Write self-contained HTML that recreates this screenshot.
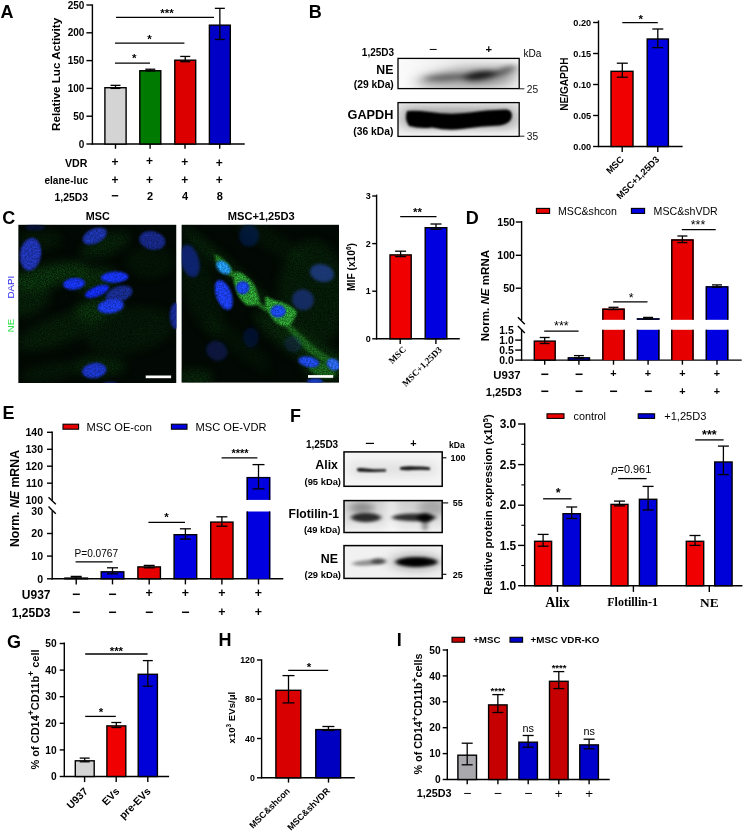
<!DOCTYPE html>
<html lang="en"><head><meta charset="utf-8"><title>Figure</title>
<style>
html,body{margin:0;padding:0;background:#fff;}
body{width:745px;height:831px;overflow:hidden;font-family:"Liberation Sans",Arial,sans-serif;}
svg{display:block;font-family:"Liberation Sans",Arial,sans-serif;}
</style></head><body>
<svg width="745" height="831" viewBox="0 0 745 831">
<defs>
<filter id="b1" x="-30%" y="-80%" width="160%" height="260%"><feGaussianBlur stdDeviation="4 2.6"/></filter>
<filter id="b2" x="-30%" y="-80%" width="160%" height="260%"><feGaussianBlur stdDeviation="2.2 1.6"/></filter>
<filter id="b3" x="-30%" y="-80%" width="160%" height="260%"><feGaussianBlur stdDeviation="1.2 1"/></filter>
<filter id="b6" x="-30%" y="-80%" width="160%" height="260%"><feGaussianBlur stdDeviation="7 4"/></filter>
<clipPath id="cb1"><rect x="398" y="58.4" width="121.2" height="30.2"/></clipPath>
<clipPath id="cb2"><rect x="398" y="102.6" width="121.2" height="33.8"/></clipPath>
<linearGradient id="gb1" x1="0" x2="1" y1="0" y2="0"><stop offset="0" stop-color="#fbfbfb"/><stop offset="0.5" stop-color="#ececec"/><stop offset="1" stop-color="#f4f4f4"/></linearGradient>
<linearGradient id="gb2" x1="0" x2="0" y1="0" y2="1"><stop offset="0" stop-color="#e6e6e6"/><stop offset="0.5" stop-color="#e0e0e0"/><stop offset="1" stop-color="#f6f6f6"/></linearGradient>
<filter id="n1" x="-40%" y="-40%" width="180%" height="180%"><feGaussianBlur stdDeviation="0.9"/></filter>
<filter id="n2" x="-40%" y="-40%" width="180%" height="180%"><feGaussianBlur stdDeviation="1.8"/></filter>
<filter id="hz" x="-20%" y="-20%" width="140%" height="140%" color-interpolation-filters="sRGB"><feGaussianBlur stdDeviation="5" result="a"/><feTurbulence type="fractalNoise" baseFrequency="0.75" numOctaves="2" seed="5" result="n"/><feColorMatrix in="n" type="matrix" values="1.6 0 0 0 -0.3  1.6 0 0 0 -0.3  1.6 0 0 0 -0.3  0 0 0 0 1" result="n2"/><feComposite in="a" in2="n2" operator="arithmetic" k1="0.78" k2="0.14" k3="0" k4="0"/></filter>
<filter id="hz2" x="-20%" y="-20%" width="140%" height="140%" color-interpolation-filters="sRGB"><feGaussianBlur stdDeviation="1.3" result="a"/><feTurbulence type="fractalNoise" baseFrequency="0.8" numOctaves="2" seed="11" result="n"/><feColorMatrix in="n" type="matrix" values="1.5 0 0 0 -0.2  1.5 0 0 0 -0.2  1.5 0 0 0 -0.2  0 0 0 0 1" result="n2"/><feComposite in="a" in2="n2" operator="arithmetic" k1="0.9" k2="0.4" k3="0" k4="0"/></filter>
<filter id="nt" x="-20%" y="-20%" width="140%" height="140%" color-interpolation-filters="sRGB"><feGaussianBlur stdDeviation="0.9" result="a"/><feTurbulence type="fractalNoise" baseFrequency="0.6" numOctaves="2" seed="2" result="n"/><feColorMatrix in="n" type="matrix" values="1.2 0 0 0 0.1  1.2 0 0 0 0.1  1.2 0 0 0 0.1  0 0 0 0 1" result="n2"/><feComposite in="a" in2="n2" operator="arithmetic" k1="0.75" k2="0.42" k3="0" k4="0"/></filter>
<clipPath id="cm1"><rect x="18.2" y="224.6" width="158.3" height="158.5"/></clipPath>
<clipPath id="cm2"><rect x="181.4" y="224.6" width="157.6" height="158.2"/></clipPath>
<clipPath id="cf1"><rect x="344" y="451.9" width="98.2" height="34.4"/></clipPath>
<clipPath id="cf2"><rect x="344" y="500.6" width="98.2" height="31.9"/></clipPath>
<clipPath id="cf3"><rect x="344" y="545.6" width="98.2" height="32.8"/></clipPath>
<filter id="bn" x="-10%" y="-30%" width="120%" height="160%" color-interpolation-filters="sRGB"><feGaussianBlur stdDeviation="1.7 1.3" result="a"/><feTurbulence type="fractalNoise" baseFrequency="0.35" numOctaves="2" seed="9" result="n"/><feColorMatrix in="n" type="matrix" values="0 0 0 0 0  0 0 0 0 0  0 0 0 0 0  0.9 0 0 0 0.5" result="n2"/><feComposite in="a" in2="n2" operator="in"/><feGaussianBlur stdDeviation="0.45"/></filter>
<linearGradient id="gf2" x1="0" x2="0" y1="0" y2="1"><stop offset="0" stop-color="#cfcfcf"/><stop offset="0.6" stop-color="#dcdcdc"/><stop offset="1" stop-color="#f2f2f2"/></linearGradient>
</defs>
<rect x="0" y="0" width="745" height="831" fill="#fff"/>
<text x="0.4" y="17.8" font-size="18" font-weight="bold" text-anchor="start" fill="#000">A</text>
<text x="308.8" y="17.8" font-size="18" font-weight="bold" text-anchor="start" fill="#000">B</text>
<text x="2.2" y="224.1" font-size="18" font-weight="bold" text-anchor="start" fill="#000">C</text>
<text x="465.8" y="223.9" font-size="18" font-weight="bold" text-anchor="start" fill="#000">D</text>
<text x="2.6" y="419" font-size="18" font-weight="bold" text-anchor="start" fill="#000">E</text>
<text x="290.1" y="422.1" font-size="18" font-weight="bold" text-anchor="start" fill="#000">F</text>
<text x="7" y="648" font-size="18" font-weight="bold" text-anchor="start" fill="#000">G</text>
<text x="218.4" y="646.1" font-size="18" font-weight="bold" text-anchor="start" fill="#000">H</text>
<text x="396.7" y="645.9" font-size="18" font-weight="bold" text-anchor="start" fill="#000">I</text>
<line x1="92.4" y1="4.4" x2="92.4" y2="144.6" stroke="#000" stroke-width="1.4" stroke-linecap="butt"/>
<line x1="91.8" y1="144" x2="244.7" y2="144" stroke="#000" stroke-width="1.4" stroke-linecap="butt"/>
<line x1="86.4" y1="144" x2="92.4" y2="144" stroke="#000" stroke-width="1.4" stroke-linecap="butt"/>
<text x="84.4" y="147.58" font-size="10" font-weight="bold" text-anchor="end" fill="#000">0</text>
<line x1="86.4" y1="116.2" x2="92.4" y2="116.2" stroke="#000" stroke-width="1.4" stroke-linecap="butt"/>
<text x="84.4" y="119.78" font-size="10" font-weight="bold" text-anchor="end" fill="#000">50</text>
<line x1="86.4" y1="88.4" x2="92.4" y2="88.4" stroke="#000" stroke-width="1.4" stroke-linecap="butt"/>
<text x="84.4" y="91.98" font-size="10" font-weight="bold" text-anchor="end" fill="#000">100</text>
<line x1="86.4" y1="60.6" x2="92.4" y2="60.6" stroke="#000" stroke-width="1.4" stroke-linecap="butt"/>
<text x="84.4" y="64.18" font-size="10" font-weight="bold" text-anchor="end" fill="#000">150</text>
<line x1="86.4" y1="32.8" x2="92.4" y2="32.8" stroke="#000" stroke-width="1.4" stroke-linecap="butt"/>
<text x="84.4" y="36.38" font-size="10" font-weight="bold" text-anchor="end" fill="#000">200</text>
<line x1="86.4" y1="5" x2="92.4" y2="5" stroke="#000" stroke-width="1.4" stroke-linecap="butt"/>
<text x="84.4" y="8.58" font-size="10" font-weight="bold" text-anchor="end" fill="#000">250</text>
<text x="60.2" y="74.4" font-size="11.6" font-weight="bold" text-anchor="middle" fill="#000" transform="rotate(-90 60.2 74.4)">Relative Luc Activity</text>
<rect x="104.9" y="87.71" width="21.2" height="56.29" fill="#d4d4d4" stroke="#000" stroke-width="1.4"/>
<line x1="115.5" y1="85.34" x2="115.5" y2="88.4" stroke="#000" stroke-width="1.3" stroke-linecap="butt"/>
<line x1="110.5" y1="85.34" x2="120.5" y2="85.34" stroke="#000" stroke-width="1.3" stroke-linecap="butt"/>
<line x1="110.5" y1="88.4" x2="120.5" y2="88.4" stroke="#000" stroke-width="1.3" stroke-linecap="butt"/>
<rect x="139.8" y="70.75" width="21" height="73.25" fill="#007a00" stroke="#000" stroke-width="1.4"/>
<line x1="150.3" y1="69.22" x2="150.3" y2="70.89" stroke="#000" stroke-width="1.3" stroke-linecap="butt"/>
<line x1="145.3" y1="69.22" x2="155.3" y2="69.22" stroke="#000" stroke-width="1.3" stroke-linecap="butt"/>
<line x1="145.3" y1="70.89" x2="155.3" y2="70.89" stroke="#000" stroke-width="1.3" stroke-linecap="butt"/>
<rect x="174.8" y="60.19" width="20.9" height="83.81" fill="#dc0000" stroke="#000" stroke-width="1.4"/>
<line x1="185.25" y1="56.43" x2="185.25" y2="61.71" stroke="#000" stroke-width="1.3" stroke-linecap="butt"/>
<line x1="180.25" y1="56.43" x2="190.25" y2="56.43" stroke="#000" stroke-width="1.3" stroke-linecap="butt"/>
<line x1="180.25" y1="61.71" x2="190.25" y2="61.71" stroke="#000" stroke-width="1.3" stroke-linecap="butt"/>
<rect x="209.4" y="25.16" width="20.9" height="118.84" fill="#0000c6" stroke="#000" stroke-width="1.4"/>
<line x1="219.85" y1="8.34" x2="219.85" y2="39.47" stroke="#000" stroke-width="1.3" stroke-linecap="butt"/>
<line x1="214.85" y1="8.34" x2="224.85" y2="8.34" stroke="#000" stroke-width="1.3" stroke-linecap="butt"/>
<line x1="214.85" y1="39.47" x2="224.85" y2="39.47" stroke="#000" stroke-width="1.3" stroke-linecap="butt"/>
<line x1="115.5" y1="144" x2="115.5" y2="148.8" stroke="#000" stroke-width="1.4" stroke-linecap="butt"/>
<line x1="150.1" y1="144" x2="150.1" y2="148.8" stroke="#000" stroke-width="1.4" stroke-linecap="butt"/>
<line x1="185" y1="144" x2="185" y2="148.8" stroke="#000" stroke-width="1.4" stroke-linecap="butt"/>
<line x1="219.7" y1="144" x2="219.7" y2="148.8" stroke="#000" stroke-width="1.4" stroke-linecap="butt"/>
<line x1="115" y1="63.2" x2="150" y2="63.2" stroke="#000" stroke-width="1.3" stroke-linecap="butt"/>
<line x1="115" y1="43.2" x2="184.4" y2="43.2" stroke="#000" stroke-width="1.3" stroke-linecap="butt"/>
<line x1="116" y1="17.4" x2="214" y2="17.4" stroke="#000" stroke-width="1.3" stroke-linecap="butt"/>
<text x="134.2" y="61.95" font-size="11.5" font-weight="bold" text-anchor="middle" fill="#000">*</text>
<text x="149.6" y="43.15" font-size="11.5" font-weight="bold" text-anchor="middle" fill="#000">*</text>
<text x="167" y="17.35" font-size="11.5" font-weight="bold" text-anchor="middle" fill="#000">***</text>
<text x="87.4" y="166.99" font-size="10.6" font-weight="bold" text-anchor="end" fill="#000">VDR</text>
<text x="88.2" y="183.92" font-size="10.1" font-weight="bold" text-anchor="end" fill="#000">elane-luc</text>
<text x="88" y="200.62" font-size="10.4" font-weight="bold" text-anchor="end" fill="#000">1,25D3</text>
<text x="114.9" y="166.45" font-size="12" font-weight="bold" text-anchor="middle" fill="#000">+</text>
<text x="114.9" y="184.05" font-size="12" font-weight="bold" text-anchor="middle" fill="#000">+</text>
<text x="149.5" y="165.25" font-size="12" font-weight="bold" text-anchor="middle" fill="#000">+</text>
<text x="149.5" y="184.05" font-size="12" font-weight="bold" text-anchor="middle" fill="#000">+</text>
<text x="184.7" y="166.45" font-size="12" font-weight="bold" text-anchor="middle" fill="#000">+</text>
<text x="184.7" y="184.05" font-size="12" font-weight="bold" text-anchor="middle" fill="#000">+</text>
<text x="219.3" y="167.05" font-size="12" font-weight="bold" text-anchor="middle" fill="#000">+</text>
<text x="219.3" y="184.05" font-size="12" font-weight="bold" text-anchor="middle" fill="#000">+</text>
<text x="115.1" y="200.36" font-size="12.8" font-weight="bold" text-anchor="middle" fill="#000">−</text>
<text x="150.1" y="200.34" font-size="11" font-weight="bold" text-anchor="middle" fill="#000">2</text>
<text x="185" y="200.34" font-size="11" font-weight="bold" text-anchor="middle" fill="#000">4</text>
<text x="219.7" y="200.34" font-size="11" font-weight="bold" text-anchor="middle" fill="#000">8</text>
<g clip-path="url(#cb1)"><rect x="398" y="58.4" width="122" height="30.2" fill="url(#gb1)"/><g filter="url(#b6)"><ellipse cx="468" cy="77" rx="52" ry="10" fill="#000" opacity="0.3" transform="rotate(-6 468 77)"/><ellipse cx="490" cy="82" rx="26" ry="6" fill="#000" opacity="0.2"/></g><g filter="url(#b1)"><ellipse cx="446" cy="77.5" rx="22" ry="3.2" fill="#000" opacity="0.42" transform="rotate(-3 446 77)"/><ellipse cx="480" cy="75.5" rx="17" ry="4.2" fill="#000" opacity="0.85" transform="rotate(-7 480 75)"/><ellipse cx="505" cy="70.5" rx="12" ry="3.2" fill="#000" opacity="0.5" transform="rotate(-22 505 70)"/></g></g>
<rect x="398" y="58.4" width="121.2" height="30.2" fill="none" stroke="#000" stroke-width="1.3"/>
<g clip-path="url(#cb2)"><rect x="398" y="102.6" width="122" height="33.8" fill="url(#gb2)"/><g filter="url(#b6)"><rect x="404" y="108" width="110" height="20" fill="#000" opacity="0.3"/></g><g filter="url(#b3)"><path d="M407 111 Q404 119 409 126 Q420 129 432 127.5 Q448 131 462 129 Q480 126 500 125.5 Q511 124 512 116 Q512 109 505 109.5 Q485 110 470 112.5 Q450 115 430 112 Q415 110 407 111Z" fill="#000"/></g></g>
<rect x="398" y="102.6" width="121.2" height="33.8" fill="none" stroke="#000" stroke-width="1.3"/>
<text x="394.1" y="55.98" font-size="10" font-weight="bold" text-anchor="end" fill="#000">1,25D3</text>
<text x="433" y="53.83" font-size="14.32" font-weight="normal" text-anchor="middle" fill="#000">−</text>
<text x="488.71" y="52.78" font-size="11.2" font-weight="bold" text-anchor="middle" fill="#000">+</text>
<text x="523.4" y="57.42" font-size="10.1" font-weight="normal" text-anchor="start" fill="#000">kDa</text>
<text x="393.4" y="74" font-size="12.3" font-weight="bold" text-anchor="end" fill="#000">NE</text>
<text x="393.8" y="87.89" font-size="10.3" font-weight="bold" text-anchor="end" fill="#000">(29 kDa)</text>
<text x="393.4" y="119.15" font-size="12.7" font-weight="bold" text-anchor="end" fill="#000">GAPDH</text>
<text x="393.4" y="134.89" font-size="10.3" font-weight="bold" text-anchor="end" fill="#000">(36 kDa)</text>
<line x1="519.6" y1="88.8" x2="524.4" y2="88.8" stroke="#222" stroke-width="1" stroke-linecap="butt"/>
<line x1="519.6" y1="136.2" x2="524.4" y2="136.2" stroke="#222" stroke-width="1" stroke-linecap="butt"/>
<text x="526.8" y="92.85" font-size="10.2" font-weight="normal" text-anchor="start" fill="#111">25</text>
<text x="526.8" y="139.85" font-size="10.2" font-weight="normal" text-anchor="start" fill="#111">35</text>
<line x1="598.5" y1="20.4" x2="598.5" y2="147.1" stroke="#000" stroke-width="1.4" stroke-linecap="butt"/>
<line x1="597.9" y1="146.5" x2="682.6" y2="146.5" stroke="#000" stroke-width="1.4" stroke-linecap="butt"/>
<line x1="593.1" y1="146.5" x2="598.5" y2="146.5" stroke="#000" stroke-width="1.4" stroke-linecap="butt"/>
<text x="591.2" y="149.79" font-size="9.2" font-weight="bold" text-anchor="end" fill="#000">0.00</text>
<line x1="593.1" y1="115.5" x2="598.5" y2="115.5" stroke="#000" stroke-width="1.4" stroke-linecap="butt"/>
<text x="591.2" y="118.79" font-size="9.2" font-weight="bold" text-anchor="end" fill="#000">0.05</text>
<line x1="593.1" y1="84.5" x2="598.5" y2="84.5" stroke="#000" stroke-width="1.4" stroke-linecap="butt"/>
<text x="591.2" y="87.79" font-size="9.2" font-weight="bold" text-anchor="end" fill="#000">0.10</text>
<line x1="593.1" y1="53.5" x2="598.5" y2="53.5" stroke="#000" stroke-width="1.4" stroke-linecap="butt"/>
<text x="591.2" y="56.79" font-size="9.2" font-weight="bold" text-anchor="end" fill="#000">0.15</text>
<line x1="593.1" y1="22.5" x2="598.5" y2="22.5" stroke="#000" stroke-width="1.4" stroke-linecap="butt"/>
<text x="591.2" y="25.79" font-size="9.2" font-weight="bold" text-anchor="end" fill="#000">0.20</text>
<text x="567.8" y="84.2" font-size="10.1" font-weight="bold" text-anchor="middle" fill="#000" transform="rotate(-90 567.8 84.2)">NE/GAPDH</text>
<rect x="611" y="71.3" width="22" height="75.2" fill="#f00000" stroke="#000" stroke-width="1.4"/>
<rect x="647.2" y="39" width="21.2" height="107.5" fill="#0000e0" stroke="#000" stroke-width="1.4"/>
<line x1="622.3" y1="63.2" x2="622.3" y2="77.2" stroke="#000" stroke-width="1.3" stroke-linecap="butt"/>
<line x1="616.8" y1="63.2" x2="627.8" y2="63.2" stroke="#000" stroke-width="1.3" stroke-linecap="butt"/>
<line x1="616.8" y1="77.2" x2="627.8" y2="77.2" stroke="#000" stroke-width="1.3" stroke-linecap="butt"/>
<line x1="657.8" y1="29" x2="657.8" y2="47.6" stroke="#000" stroke-width="1.3" stroke-linecap="butt"/>
<line x1="652.3" y1="29" x2="663.3" y2="29" stroke="#000" stroke-width="1.3" stroke-linecap="butt"/>
<line x1="652.3" y1="47.6" x2="663.3" y2="47.6" stroke="#000" stroke-width="1.3" stroke-linecap="butt"/>
<line x1="622.2" y1="146.5" x2="622.2" y2="151.9" stroke="#000" stroke-width="1.4" stroke-linecap="butt"/>
<line x1="657.8" y1="146.5" x2="657.8" y2="151.9" stroke="#000" stroke-width="1.4" stroke-linecap="butt"/>
<line x1="622.3" y1="22.6" x2="657.8" y2="22.6" stroke="#000" stroke-width="1.3" stroke-linecap="butt"/>
<text x="640.8" y="22.55" font-size="11.5" font-weight="bold" text-anchor="middle" fill="#000">*</text>
<text x="624.5" y="160" font-size="9.3" font-weight="bold" text-anchor="end" fill="#000" transform="rotate(-45 624.5 160)">MSC</text>
<text x="660" y="160" font-size="9.3" font-weight="bold" text-anchor="end" fill="#000" transform="rotate(-45 660 160)">MSC+1,25D3</text>
<g clip-path="url(#cm1)"><rect x="18.2" y="224.6" width="158.3" height="158.5" fill="#020803"/><g filter="url(#hz)"><ellipse cx="48" cy="276" rx="42" ry="11" fill="#1c8a22" opacity="0.55" transform="rotate(-12 48 276)"/><ellipse cx="30" cy="300" rx="22" ry="14" fill="#1c8a22" opacity="0.3" transform="rotate(-30 30 300)"/><ellipse cx="96" cy="280" rx="22" ry="12" fill="#1c8a22" opacity="0.45" transform="rotate(-10 96 280)"/><ellipse cx="98" cy="308" rx="24" ry="10" fill="#1c8a22" opacity="0.5" transform="rotate(-10 98 308)"/><ellipse cx="105" cy="245" rx="26" ry="10" fill="#1c8a22" opacity="0.35" transform="rotate(-20 105 245)"/><ellipse cx="60" cy="330" rx="45" ry="14" fill="#1c8a22" opacity="0.28" transform="rotate(-20 60 330)"/><ellipse cx="130" cy="330" rx="45" ry="22" fill="#1c8a22" opacity="0.2" transform="rotate(-10 130 330)"/><ellipse cx="100" cy="366" rx="26" ry="10" fill="#1c8a22" opacity="0.35"/><ellipse cx="50" cy="372" rx="30" ry="8" fill="#1c8a22" opacity="0.22" transform="rotate(-10 50 372)"/><ellipse cx="150" cy="262" rx="24" ry="16" fill="#1c8a22" opacity="0.15"/><ellipse cx="40" cy="240" rx="22" ry="10" fill="#1c8a22" opacity="0.2"/></g><g filter="url(#nt)"><ellipse cx="35" cy="227.4" rx="10" ry="3.2" fill="#0c1a60" opacity="0.55"/><ellipse cx="30.5" cy="254.3" rx="10.6" ry="16.4" fill="#2238c0" opacity="0.95" transform="rotate(8 30.5 254.3)"/><ellipse cx="94.7" cy="236" rx="12.8" ry="7.4" fill="#1e38b8" opacity="0.92" transform="rotate(-24 94.7 236)"/><ellipse cx="152.3" cy="240.4" rx="13.2" ry="9.2" fill="#1a2e9c" opacity="0.88" transform="rotate(12 152.3 240.4)"/><ellipse cx="119.1" cy="294.2" rx="14" ry="7.8" fill="#1c34a8" opacity="0.85" transform="rotate(-20 119.1 294.2)"/><ellipse cx="74.1" cy="283.8" rx="11" ry="5.8" fill="#1634f4" opacity="1" transform="rotate(-6 74.1 283.8)"/><ellipse cx="114.7" cy="277.1" rx="13.8" ry="5.6" fill="#1634f4" opacity="1" transform="rotate(-3 114.7 277.1)"/><ellipse cx="97" cy="291.3" rx="12.8" ry="5" fill="#122cf4" opacity="1" transform="rotate(-22 97 291.3)"/><ellipse cx="110.7" cy="306.4" rx="13.2" ry="7" fill="#1c3cea" opacity="1" transform="rotate(-8 110.7 306.4)"/><ellipse cx="175.8" cy="315.7" rx="6" ry="13" fill="#1a2ea6" opacity="0.9"/><ellipse cx="94.3" cy="370.6" rx="12.2" ry="7.6" fill="#1c38d0" opacity="0.96" transform="rotate(-8 94.3 370.6)"/><ellipse cx="110" cy="384.4" rx="8" ry="2.5" fill="#1a34cc" opacity="0.7"/></g><rect x="145.7" y="375.5" width="25.4" height="2.7" fill="#fff"/></g>
<g clip-path="url(#cm2)"><rect x="181.4" y="224.6" width="157.6" height="158.2" fill="#020803"/><g filter="url(#hz)"><ellipse cx="230" cy="270" rx="66" ry="6" fill="#1c8a22" opacity="0.4" transform="rotate(42 230 270)"/><ellipse cx="300" cy="345" rx="55" ry="12" fill="#1c8a22" opacity="0.38" transform="rotate(35 300 345)"/><ellipse cx="312" cy="295" rx="34" ry="55" fill="#1c8a22" opacity="0.26"/><ellipse cx="325" cy="365" rx="22" ry="16" fill="#1c8a22" opacity="0.38"/><ellipse cx="200" cy="290" rx="16" ry="50" fill="#1c8a22" opacity="0.18" transform="rotate(-20 200 290)"/><ellipse cx="195" cy="378" rx="18" ry="8" fill="#1c8a22" opacity="0.4"/><ellipse cx="270" cy="240" rx="40" ry="10" fill="#1c8a22" opacity="0.15" transform="rotate(30 270 240)"/><ellipse cx="240" cy="345" rx="40" ry="10" fill="#1c8a22" opacity="0.12" transform="rotate(40 240 345)"/></g><g filter="url(#hz2)"><path d="M233 273 Q240 270 247 277 Q255 283 257 292 Q260 300 260 304 Q252 307 246 305 Q238 298 236 290 Q233 281 233 273Z" fill="#30ac36" opacity="0.95"/><path d="M266 296 Q272 300 282 302 Q292 306 297 312 Q295 320 290 325 Q284 328 278 324 Q270 318 266 308 Q264 300 266 296Z" fill="#30ac36" opacity="0.95"/><path d="M288 322 Q300 334 316 348 Q330 358 339 364 L339 369 Q322 362 306 350 Q294 339 285 326Z" fill="#2da42f" opacity="0.55"/><path d="M214 254 Q222 256 230 266 Q234 272 236 278 L230 276 Q222 270 216 262Z" fill="#2a9a2c" opacity="0.8"/><path d="M257 300 Q262 304 268 308 L266 312 Q260 308 255 304Z" fill="#2a9a2c" opacity="0.7"/><ellipse cx="322" cy="370" rx="14" ry="7" fill="#2a9a2c" opacity="0.6" transform="rotate(20 322 370)"/></g><g filter="url(#n2)"><ellipse cx="190" cy="261" rx="9" ry="16.6" fill="#14289a" opacity="0.7" transform="rotate(-15 190 261)"/><ellipse cx="249" cy="235.5" rx="10" ry="11" fill="#0b1b62" opacity="0.55"/><ellipse cx="322" cy="273" rx="12.2" ry="8.8" fill="#1f4296" opacity="0.75" transform="rotate(15 322 273)"/><ellipse cx="303" cy="299.7" rx="11" ry="10.4" fill="#1a3490" opacity="0.65" transform="rotate(20 303 299.7)"/><ellipse cx="216.8" cy="350.7" rx="11" ry="9.6" fill="#0c1e6a" opacity="0.55" transform="rotate(30 216.8 350.7)"/><ellipse cx="251" cy="337.4" rx="7.8" ry="10" fill="#0a1a5e" opacity="0.45"/><ellipse cx="293" cy="344" rx="9" ry="8" fill="#10246e" opacity="0.35" transform="rotate(20 293 344)"/></g><g filter="url(#nt)"><ellipse cx="223.4" cy="267.6" rx="8.4" ry="5.4" fill="#249cf4" opacity="1" transform="rotate(40 223.4 267.6)"/><ellipse cx="223.8" cy="294.9" rx="7.8" ry="15.6" fill="#1c40f4" opacity="1" transform="rotate(-20 223.8 294.9)"/><ellipse cx="242.7" cy="287.6" rx="6.6" ry="6.4" fill="#1c48f6" opacity="1"/><ellipse cx="278.1" cy="311.3" rx="7.5" ry="6.2" fill="#1c4cf8" opacity="1"/><ellipse cx="308.7" cy="361.8" rx="10.6" ry="5.2" fill="#1f4cf0" opacity="1" transform="rotate(12 308.7 361.8)"/><ellipse cx="333.4" cy="364.4" rx="7" ry="5.6" fill="#2c6af2" opacity="1" transform="rotate(30 333.4 364.4)"/><ellipse cx="315" cy="381.6" rx="8" ry="3" fill="#1d48ee" opacity="0.85"/></g><rect x="308" y="375.1" width="25.2" height="2.7" fill="#fff"/></g>
<text x="97.8" y="219.97" font-size="10.8" font-weight="bold" text-anchor="middle" fill="#000">MSC</text>
<text x="261.2" y="220.07" font-size="11.1" font-weight="bold" text-anchor="middle" fill="#000">MSC+1,25D3</text>
<text x="14.1" y="287.1" font-size="9.8" font-weight="normal" text-anchor="middle" fill="#2b2bec" transform="rotate(-90 14.1 287.1)">DAPI</text>
<text x="14.1" y="325.6" font-size="9.6" font-weight="normal" text-anchor="middle" fill="#2ee048" transform="rotate(-90 14.1 325.6)">NE</text>
<line x1="376.6" y1="194.6" x2="376.6" y2="339.4" stroke="#000" stroke-width="1.4" stroke-linecap="butt"/>
<line x1="376" y1="338.8" x2="459.8" y2="338.8" stroke="#000" stroke-width="1.4" stroke-linecap="butt"/>
<line x1="372.2" y1="338.8" x2="376.6" y2="338.8" stroke="#000" stroke-width="1.4" stroke-linecap="butt"/>
<text x="370.8" y="342.02" font-size="9" font-weight="bold" text-anchor="end" fill="#000">0</text>
<line x1="372.2" y1="291.2" x2="376.6" y2="291.2" stroke="#000" stroke-width="1.4" stroke-linecap="butt"/>
<text x="370.8" y="294.42" font-size="9" font-weight="bold" text-anchor="end" fill="#000">1</text>
<line x1="372.2" y1="243.6" x2="376.6" y2="243.6" stroke="#000" stroke-width="1.4" stroke-linecap="butt"/>
<text x="370.8" y="246.82" font-size="9" font-weight="bold" text-anchor="end" fill="#000">2</text>
<line x1="372.2" y1="196" x2="376.6" y2="196" stroke="#000" stroke-width="1.4" stroke-linecap="butt"/>
<text x="370.8" y="199.22" font-size="9" font-weight="bold" text-anchor="end" fill="#000">3</text>
<text transform="rotate(-90 354.8 267)" x="354.8" y="267" font-size="10.2" font-weight="bold" text-anchor="middle">MIF (x10<tspan font-size="6.4" dy="-3.6">6</tspan><tspan dy="3.6">)</tspan></text>
<rect x="390" y="254.9" width="21.2" height="83.9" fill="#f00000" stroke="#000" stroke-width="1.4"/>
<rect x="425.2" y="227.7" width="21.6" height="111.1" fill="#0000e0" stroke="#000" stroke-width="1.4"/>
<line x1="400.6" y1="251.2" x2="400.6" y2="256.6" stroke="#000" stroke-width="1.3" stroke-linecap="butt"/>
<line x1="395.1" y1="251.2" x2="406.1" y2="251.2" stroke="#000" stroke-width="1.3" stroke-linecap="butt"/>
<line x1="395.1" y1="256.6" x2="406.1" y2="256.6" stroke="#000" stroke-width="1.3" stroke-linecap="butt"/>
<line x1="436" y1="224" x2="436" y2="229.3" stroke="#000" stroke-width="1.3" stroke-linecap="butt"/>
<line x1="430.5" y1="224" x2="441.5" y2="224" stroke="#000" stroke-width="1.3" stroke-linecap="butt"/>
<line x1="430.5" y1="229.3" x2="441.5" y2="229.3" stroke="#000" stroke-width="1.3" stroke-linecap="butt"/>
<line x1="400.2" y1="338.8" x2="400.2" y2="344" stroke="#000" stroke-width="1.4" stroke-linecap="butt"/>
<line x1="435.9" y1="338.8" x2="435.9" y2="344" stroke="#000" stroke-width="1.4" stroke-linecap="butt"/>
<line x1="400.2" y1="216.6" x2="436.5" y2="216.6" stroke="#000" stroke-width="1.3" stroke-linecap="butt"/>
<text x="417.5" y="216.15" font-size="11.5" font-weight="bold" text-anchor="middle" fill="#000">**</text>
<text x="406.5" y="350" font-size="9" font-weight="bold" text-anchor="end" fill="#000" font-family='"Liberation Serif", "Times New Roman", serif' transform="rotate(-45 406.5 350)">MSC</text>
<text x="442.5" y="350.2" font-size="9" font-weight="bold" text-anchor="end" fill="#000" font-family='"Liberation Serif", "Times New Roman", serif' transform="rotate(-45 442.5 350.2)">MSC+1,25D3</text>
<line x1="521.6" y1="221" x2="521.6" y2="320.2" stroke="#000" stroke-width="1.4" stroke-linecap="butt"/>
<line x1="521.6" y1="329.4" x2="521.6" y2="360.7" stroke="#000" stroke-width="1.4" stroke-linecap="butt"/>
<line x1="521" y1="360.1" x2="741.7" y2="360.1" stroke="#000" stroke-width="1.4" stroke-linecap="butt"/>
<line x1="517.9" y1="317.2" x2="524.8" y2="324.2" stroke="#000" stroke-width="1.4" stroke-linecap="butt"/>
<line x1="517.9" y1="326.1" x2="524.8" y2="333" stroke="#000" stroke-width="1.4" stroke-linecap="butt"/>
<line x1="515.8" y1="222" x2="521.6" y2="222" stroke="#000" stroke-width="1.4" stroke-linecap="butt"/>
<text x="515" y="225.79" font-size="10.6" font-weight="bold" text-anchor="end" fill="#000">150</text>
<line x1="515.8" y1="255.3" x2="521.6" y2="255.3" stroke="#000" stroke-width="1.4" stroke-linecap="butt"/>
<text x="515" y="259.09" font-size="10.6" font-weight="bold" text-anchor="end" fill="#000">100</text>
<line x1="515.8" y1="288.2" x2="521.6" y2="288.2" stroke="#000" stroke-width="1.4" stroke-linecap="butt"/>
<text x="515" y="291.99" font-size="10.6" font-weight="bold" text-anchor="end" fill="#000">50</text>
<text x="513.8" y="333.92" font-size="10.4" font-weight="bold" text-anchor="end" fill="#000">1.5</text>
<line x1="515.2" y1="340.1" x2="521.6" y2="340.1" stroke="#000" stroke-width="1.4" stroke-linecap="butt"/>
<text x="513.8" y="343.82" font-size="10.4" font-weight="bold" text-anchor="end" fill="#000">1.0</text>
<line x1="515.2" y1="350.1" x2="521.6" y2="350.1" stroke="#000" stroke-width="1.4" stroke-linecap="butt"/>
<text x="513.8" y="353.82" font-size="10.4" font-weight="bold" text-anchor="end" fill="#000">0.5</text>
<line x1="515.2" y1="360.1" x2="521.6" y2="360.1" stroke="#000" stroke-width="1.4" stroke-linecap="butt"/>
<text x="513.8" y="363.82" font-size="10.4" font-weight="bold" text-anchor="end" fill="#000">0.0</text>
<text transform="rotate(-90 489 295.5)" x="489" y="295.5" font-size="11.6" font-weight="bold" text-anchor="middle">Norm. <tspan font-style="italic">NE</tspan> mRNA</text>
<rect x="534.3" y="341.1" width="20.9" height="19" fill="#e60000" stroke="#000" stroke-width="1.4"/>
<rect x="568.3" y="357.8" width="21.2" height="2.3" fill="#0000e0" stroke="#000" stroke-width="1.4"/>
<line x1="544.7" y1="337.5" x2="544.7" y2="343.5" stroke="#000" stroke-width="1.3" stroke-linecap="butt"/>
<line x1="539.7" y1="337.5" x2="549.7" y2="337.5" stroke="#000" stroke-width="1.3" stroke-linecap="butt"/>
<line x1="539.7" y1="343.5" x2="549.7" y2="343.5" stroke="#000" stroke-width="1.3" stroke-linecap="butt"/>
<line x1="578.9" y1="355.6" x2="578.9" y2="358.2" stroke="#000" stroke-width="1.3" stroke-linecap="butt"/>
<line x1="573.9" y1="355.6" x2="583.9" y2="355.6" stroke="#000" stroke-width="1.3" stroke-linecap="butt"/>
<line x1="573.9" y1="358.2" x2="583.9" y2="358.2" stroke="#000" stroke-width="1.3" stroke-linecap="butt"/>
<rect x="602.2" y="308.5" width="22.6" height="11.3" fill="#e60000"/>
<path d="M602.9 319.8 V309.2 H624.1 V319.8" fill="none" stroke="#000" stroke-width="1.4"/>
<rect x="602.2" y="329.8" width="22.6" height="30.3" fill="#e60000"/>
<path d="M602.9 329.8 V360.1 M624.1 329.8 V360.1" fill="none" stroke="#000" stroke-width="1.4"/>
<rect x="636.8" y="318.3" width="22.7" height="1.5" fill="#0000e0"/>
<path d="M637.5 319.8 V319 H658.8 V319.8" fill="none" stroke="#000" stroke-width="1.4"/>
<rect x="636.8" y="329.8" width="22.7" height="30.3" fill="#0000e0"/>
<path d="M637.5 329.8 V360.1 M658.8 329.8 V360.1" fill="none" stroke="#000" stroke-width="1.4"/>
<rect x="671.1" y="239.3" width="22.6" height="80.5" fill="#e60000"/>
<path d="M671.8 319.8 V240 H693 V319.8" fill="none" stroke="#000" stroke-width="1.4"/>
<rect x="671.1" y="329.8" width="22.6" height="30.3" fill="#e60000"/>
<path d="M671.8 329.8 V360.1 M693 329.8 V360.1" fill="none" stroke="#000" stroke-width="1.4"/>
<rect x="705.7" y="286.2" width="22.7" height="33.6" fill="#0000e0"/>
<path d="M706.4 319.8 V286.9 H727.7 V319.8" fill="none" stroke="#000" stroke-width="1.4"/>
<rect x="705.7" y="329.8" width="22.7" height="30.3" fill="#0000e0"/>
<path d="M706.4 329.8 V360.1 M727.7 329.8 V360.1" fill="none" stroke="#000" stroke-width="1.4"/>
<line x1="613.5" y1="307.3" x2="613.5" y2="309.6" stroke="#000" stroke-width="1.3" stroke-linecap="butt"/>
<line x1="608.5" y1="307.3" x2="618.5" y2="307.3" stroke="#000" stroke-width="1.3" stroke-linecap="butt"/>
<line x1="608.5" y1="309.6" x2="618.5" y2="309.6" stroke="#000" stroke-width="1.3" stroke-linecap="butt"/>
<line x1="648.1" y1="317.4" x2="648.1" y2="318.9" stroke="#000" stroke-width="1.3" stroke-linecap="butt"/>
<line x1="643.1" y1="317.4" x2="653.1" y2="317.4" stroke="#000" stroke-width="1.3" stroke-linecap="butt"/>
<line x1="643.1" y1="318.9" x2="653.1" y2="318.9" stroke="#000" stroke-width="1.3" stroke-linecap="butt"/>
<line x1="682.4" y1="236" x2="682.4" y2="242.6" stroke="#000" stroke-width="1.3" stroke-linecap="butt"/>
<line x1="677.4" y1="236" x2="687.4" y2="236" stroke="#000" stroke-width="1.3" stroke-linecap="butt"/>
<line x1="677.4" y1="242.6" x2="687.4" y2="242.6" stroke="#000" stroke-width="1.3" stroke-linecap="butt"/>
<line x1="717" y1="284.9" x2="717" y2="287.2" stroke="#000" stroke-width="1.3" stroke-linecap="butt"/>
<line x1="712" y1="284.9" x2="722" y2="284.9" stroke="#000" stroke-width="1.3" stroke-linecap="butt"/>
<line x1="712" y1="287.2" x2="722" y2="287.2" stroke="#000" stroke-width="1.3" stroke-linecap="butt"/>
<line x1="544.7" y1="360.1" x2="544.7" y2="364.7" stroke="#000" stroke-width="1.4" stroke-linecap="butt"/>
<line x1="578.9" y1="360.1" x2="578.9" y2="364.7" stroke="#000" stroke-width="1.4" stroke-linecap="butt"/>
<line x1="613.5" y1="360.1" x2="613.5" y2="364.7" stroke="#000" stroke-width="1.4" stroke-linecap="butt"/>
<line x1="648.1" y1="360.1" x2="648.1" y2="364.7" stroke="#000" stroke-width="1.4" stroke-linecap="butt"/>
<line x1="682.4" y1="360.1" x2="682.4" y2="364.7" stroke="#000" stroke-width="1.4" stroke-linecap="butt"/>
<line x1="717" y1="360.1" x2="717" y2="364.7" stroke="#000" stroke-width="1.4" stroke-linecap="butt"/>
<line x1="544.2" y1="331.1" x2="578.6" y2="331.1" stroke="#000" stroke-width="1.2" stroke-linecap="butt"/>
<line x1="613.2" y1="301.9" x2="647.5" y2="301.9" stroke="#000" stroke-width="1.2" stroke-linecap="butt"/>
<line x1="681.8" y1="229.6" x2="715.7" y2="229.6" stroke="#000" stroke-width="1.2" stroke-linecap="butt"/>
<text x="561.4" y="330.4" font-size="12.5" font-weight="normal" text-anchor="middle" fill="#000">***</text>
<text x="631.2" y="301.8" font-size="12.5" font-weight="normal" text-anchor="middle" fill="#000">*</text>
<text x="698" y="229.2" font-size="12.5" font-weight="normal" text-anchor="middle" fill="#000">***</text>
<rect x="536.4" y="208.4" width="13.2" height="5" fill="#e60000" stroke="#000" stroke-width="1.1"/>
<text x="558" y="214.69" font-size="10.6" font-weight="normal" text-anchor="start" fill="#000">MSC&amp;shcon</text>
<rect x="631.4" y="208.4" width="13.2" height="5" fill="#0000e0" stroke="#000" stroke-width="1.1"/>
<text x="653.6" y="214.69" font-size="10.6" font-weight="normal" text-anchor="start" fill="#000">MSC&amp;shVDR</text>
<text x="520.6" y="378.88" font-size="11.4" font-weight="bold" text-anchor="end" fill="#000">U937</text>
<text x="521.8" y="396.01" font-size="11.2" font-weight="bold" text-anchor="end" fill="#000">1,25D3</text>
<text x="544.59" y="378.85" font-size="14" font-weight="bold" text-anchor="middle" fill="#000">−</text>
<text x="544.59" y="395.55" font-size="14" font-weight="bold" text-anchor="middle" fill="#000">−</text>
<text x="578.79" y="378.85" font-size="14" font-weight="bold" text-anchor="middle" fill="#000">−</text>
<text x="578.79" y="395.55" font-size="14" font-weight="bold" text-anchor="middle" fill="#000">−</text>
<text x="613.41" y="377.04" font-size="10.8" font-weight="bold" text-anchor="middle" fill="#000">+</text>
<text x="613.39" y="395.55" font-size="14" font-weight="bold" text-anchor="middle" fill="#000">−</text>
<text x="648.01" y="377.04" font-size="10.8" font-weight="bold" text-anchor="middle" fill="#000">+</text>
<text x="647.99" y="395.55" font-size="14" font-weight="bold" text-anchor="middle" fill="#000">−</text>
<text x="682.31" y="377.04" font-size="10.8" font-weight="bold" text-anchor="middle" fill="#000">+</text>
<text x="682.31" y="394.84" font-size="10.8" font-weight="bold" text-anchor="middle" fill="#000">+</text>
<text x="716.91" y="377.04" font-size="10.8" font-weight="bold" text-anchor="middle" fill="#000">+</text>
<text x="716.91" y="394.84" font-size="10.8" font-weight="bold" text-anchor="middle" fill="#000">+</text>
<line x1="52.2" y1="431.6" x2="52.2" y2="500.2" stroke="#000" stroke-width="1.4" stroke-linecap="butt"/>
<line x1="52.2" y1="510.6" x2="52.2" y2="579.4" stroke="#000" stroke-width="1.4" stroke-linecap="butt"/>
<line x1="51.6" y1="578.8" x2="283.3" y2="578.8" stroke="#000" stroke-width="1.4" stroke-linecap="butt"/>
<line x1="48.5" y1="497.2" x2="55.8" y2="504.3" stroke="#000" stroke-width="1.4" stroke-linecap="butt"/>
<line x1="48.5" y1="506.6" x2="55.8" y2="513.8" stroke="#000" stroke-width="1.4" stroke-linecap="butt"/>
<line x1="47" y1="432.3" x2="52.2" y2="432.3" stroke="#000" stroke-width="1.4" stroke-linecap="butt"/>
<text x="43" y="436.06" font-size="10.5" font-weight="bold" text-anchor="end" fill="#000">140</text>
<line x1="47" y1="449.3" x2="52.2" y2="449.3" stroke="#000" stroke-width="1.4" stroke-linecap="butt"/>
<text x="43" y="453.06" font-size="10.5" font-weight="bold" text-anchor="end" fill="#000">130</text>
<line x1="47" y1="466.2" x2="52.2" y2="466.2" stroke="#000" stroke-width="1.4" stroke-linecap="butt"/>
<text x="43" y="469.96" font-size="10.5" font-weight="bold" text-anchor="end" fill="#000">120</text>
<line x1="47" y1="483.2" x2="52.2" y2="483.2" stroke="#000" stroke-width="1.4" stroke-linecap="butt"/>
<text x="43" y="486.96" font-size="10.5" font-weight="bold" text-anchor="end" fill="#000">110</text>
<text x="43" y="503.66" font-size="10.5" font-weight="bold" text-anchor="end" fill="#000">100</text>
<text x="43" y="514.66" font-size="10.5" font-weight="bold" text-anchor="end" fill="#000">30</text>
<line x1="47" y1="533.5" x2="52.2" y2="533.5" stroke="#000" stroke-width="1.4" stroke-linecap="butt"/>
<text x="43" y="537.26" font-size="10.5" font-weight="bold" text-anchor="end" fill="#000">20</text>
<line x1="47" y1="556.1" x2="52.2" y2="556.1" stroke="#000" stroke-width="1.4" stroke-linecap="butt"/>
<text x="43" y="559.86" font-size="10.5" font-weight="bold" text-anchor="end" fill="#000">10</text>
<line x1="47" y1="578.8" x2="52.2" y2="578.8" stroke="#000" stroke-width="1.4" stroke-linecap="butt"/>
<text x="43" y="582.56" font-size="10.5" font-weight="bold" text-anchor="end" fill="#000">0</text>
<text transform="rotate(-90 19 498.5)" x="19" y="498" font-size="12.3" font-weight="bold" text-anchor="middle">Norm. <tspan font-style="italic">NE</tspan> mRNA</text>
<rect x="64.9" y="578.1" width="22.6" height="0.7" fill="#e60000" stroke="#000" stroke-width="1.4"/>
<rect x="101.2" y="571.8" width="22.6" height="7" fill="#0000e0" stroke="#000" stroke-width="1.4"/>
<rect x="137.9" y="566.9" width="22.5" height="11.9" fill="#e60000" stroke="#000" stroke-width="1.4"/>
<rect x="174.1" y="534.7" width="22.6" height="44.1" fill="#0000e0" stroke="#000" stroke-width="1.4"/>
<rect x="210.7" y="522.1" width="22.3" height="56.7" fill="#e60000" stroke="#000" stroke-width="1.4"/>
<rect x="246.6" y="476.9" width="23.7" height="23" fill="#0000e0"/>
<path d="M247.3 499.9 V477.6 H269.6 V499.9" fill="none" stroke="#000" stroke-width="1.4"/>
<rect x="246.6" y="511.5" width="23.7" height="67.3" fill="#0000e0"/>
<path d="M247.3 511.5 V578.8 M269.6 511.5 V578.8" fill="none" stroke="#000" stroke-width="1.4"/>
<line x1="76.2" y1="576.4" x2="76.2" y2="578" stroke="#000" stroke-width="1.3" stroke-linecap="butt"/>
<line x1="70.7" y1="576.4" x2="81.7" y2="576.4" stroke="#000" stroke-width="1.3" stroke-linecap="butt"/>
<line x1="70.7" y1="578" x2="81.7" y2="578" stroke="#000" stroke-width="1.3" stroke-linecap="butt"/>
<line x1="112.5" y1="567.8" x2="112.5" y2="573.8" stroke="#000" stroke-width="1.3" stroke-linecap="butt"/>
<line x1="107" y1="567.8" x2="118" y2="567.8" stroke="#000" stroke-width="1.3" stroke-linecap="butt"/>
<line x1="107" y1="573.8" x2="118" y2="573.8" stroke="#000" stroke-width="1.3" stroke-linecap="butt"/>
<line x1="149.2" y1="565.4" x2="149.2" y2="567.8" stroke="#000" stroke-width="1.3" stroke-linecap="butt"/>
<line x1="143.7" y1="565.4" x2="154.7" y2="565.4" stroke="#000" stroke-width="1.3" stroke-linecap="butt"/>
<line x1="143.7" y1="567.8" x2="154.7" y2="567.8" stroke="#000" stroke-width="1.3" stroke-linecap="butt"/>
<line x1="185.4" y1="528.8" x2="185.4" y2="539.1" stroke="#000" stroke-width="1.3" stroke-linecap="butt"/>
<line x1="179.9" y1="528.8" x2="190.9" y2="528.8" stroke="#000" stroke-width="1.3" stroke-linecap="butt"/>
<line x1="179.9" y1="539.1" x2="190.9" y2="539.1" stroke="#000" stroke-width="1.3" stroke-linecap="butt"/>
<line x1="221.9" y1="516.8" x2="221.9" y2="526.2" stroke="#000" stroke-width="1.3" stroke-linecap="butt"/>
<line x1="216.4" y1="516.8" x2="227.4" y2="516.8" stroke="#000" stroke-width="1.3" stroke-linecap="butt"/>
<line x1="216.4" y1="526.2" x2="227.4" y2="526.2" stroke="#000" stroke-width="1.3" stroke-linecap="butt"/>
<line x1="258.5" y1="464.6" x2="258.5" y2="488.9" stroke="#000" stroke-width="1.3" stroke-linecap="butt"/>
<line x1="252.5" y1="464.6" x2="264.5" y2="464.6" stroke="#000" stroke-width="1.3" stroke-linecap="butt"/>
<line x1="252.5" y1="488.9" x2="264.5" y2="488.9" stroke="#000" stroke-width="1.3" stroke-linecap="butt"/>
<line x1="76.2" y1="578.8" x2="76.2" y2="584.4" stroke="#000" stroke-width="1.4" stroke-linecap="butt"/>
<line x1="112.5" y1="578.8" x2="112.5" y2="584.4" stroke="#000" stroke-width="1.4" stroke-linecap="butt"/>
<line x1="149.2" y1="578.8" x2="149.2" y2="584.4" stroke="#000" stroke-width="1.4" stroke-linecap="butt"/>
<line x1="185.4" y1="578.8" x2="185.4" y2="584.4" stroke="#000" stroke-width="1.4" stroke-linecap="butt"/>
<line x1="221.9" y1="578.8" x2="221.9" y2="584.4" stroke="#000" stroke-width="1.4" stroke-linecap="butt"/>
<line x1="258.5" y1="578.8" x2="258.5" y2="584.4" stroke="#000" stroke-width="1.4" stroke-linecap="butt"/>
<line x1="75.6" y1="561.8" x2="112.5" y2="561.8" stroke="#000" stroke-width="1.2" stroke-linecap="butt"/>
<line x1="148.4" y1="522.4" x2="185" y2="522.4" stroke="#000" stroke-width="1.2" stroke-linecap="butt"/>
<line x1="221.6" y1="457.8" x2="257.4" y2="457.8" stroke="#000" stroke-width="1.2" stroke-linecap="butt"/>
<text x="96.3" y="556.72" font-size="10.1" font-weight="normal" text-anchor="middle" fill="#000">P=0.0767</text>
<text x="166.4" y="521.15" font-size="11.5" font-weight="bold" text-anchor="middle" fill="#000">*</text>
<text x="240" y="456.9" font-size="11" font-weight="bold" text-anchor="middle" fill="#000">****</text>
<rect x="63" y="424.2" width="15.6" height="5" fill="#e60000" stroke="#000" stroke-width="1.1"/>
<text x="86.6" y="430.97" font-size="11.1" font-weight="normal" text-anchor="start" fill="#000">MSC OE-con</text>
<rect x="171.4" y="424.2" width="15.6" height="5" fill="#0000e0" stroke="#000" stroke-width="1.1"/>
<text x="195.6" y="430.97" font-size="11.1" font-weight="normal" text-anchor="start" fill="#000">MSC OE-VDR</text>
<text x="50.5" y="599.2" font-size="12" font-weight="bold" text-anchor="end" fill="#000">U937</text>
<text x="50.5" y="617.1" font-size="12" font-weight="bold" text-anchor="end" fill="#000">1,25D3</text>
<text x="76.09" y="598.75" font-size="14" font-weight="bold" text-anchor="middle" fill="#000">−</text>
<text x="76.09" y="616.55" font-size="14" font-weight="bold" text-anchor="middle" fill="#000">−</text>
<text x="112.39" y="598.75" font-size="14" font-weight="bold" text-anchor="middle" fill="#000">−</text>
<text x="112.39" y="616.55" font-size="14" font-weight="bold" text-anchor="middle" fill="#000">−</text>
<text x="149.1" y="597.38" font-size="12.4" font-weight="bold" text-anchor="middle" fill="#000">+</text>
<text x="149.09" y="616.55" font-size="14" font-weight="bold" text-anchor="middle" fill="#000">−</text>
<text x="185.3" y="597.38" font-size="12.4" font-weight="bold" text-anchor="middle" fill="#000">+</text>
<text x="185.29" y="616.55" font-size="14" font-weight="bold" text-anchor="middle" fill="#000">−</text>
<text x="221.8" y="597.38" font-size="12.4" font-weight="bold" text-anchor="middle" fill="#000">+</text>
<text x="221.8" y="616.38" font-size="12.4" font-weight="bold" text-anchor="middle" fill="#000">+</text>
<text x="258.4" y="597.38" font-size="12.4" font-weight="bold" text-anchor="middle" fill="#000">+</text>
<text x="258.4" y="616.38" font-size="12.4" font-weight="bold" text-anchor="middle" fill="#000">+</text>
<g clip-path="url(#cf1)"><rect x="344" y="451.9" width="98.2" height="34.4" fill="#f5f5f5"/><g filter="url(#b6)"><rect x="350" y="462" width="86" height="14" fill="#000" opacity="0.08"/></g><g filter="url(#b3)"><path d="M357 468.6 Q360 467.4 366 468.4 Q376 469.6 386 469.2 L386 471.6 Q374 472.4 364 471.8 Q358 472 357 470.4Z" fill="#000" opacity="0.92"/><path d="M400 467.2 Q408 465.8 416 466.6 Q424 466.4 430 467.6 L430 470 Q420 469.4 412 470 Q404 470.6 400 469.6Z" fill="#000" opacity="0.92"/></g></g>
<rect x="344" y="451.9" width="98.2" height="34.4" fill="none" stroke="#000" stroke-width="1.5"/>
<g clip-path="url(#cf2)"><rect x="344" y="500.6" width="98.2" height="31.9" fill="url(#gf2)"/><g filter="url(#b1)"><rect x="386" y="498" width="11" height="38" fill="#fff" opacity="0.55"/><ellipse cx="362" cy="508" rx="12" ry="6" fill="#000" opacity="0.32"/><ellipse cx="432" cy="508" rx="14" ry="8" fill="#000" opacity="0.2"/></g><g filter="url(#b2)"><ellipse cx="366" cy="517.6" rx="15" ry="4.6" fill="#000" opacity="0.8"/><ellipse cx="414" cy="517.4" rx="22" ry="3.8" fill="#000" opacity="0.78"/><ellipse cx="425" cy="517.8" rx="8" ry="4.8" fill="#000" opacity="0.9"/><ellipse cx="425" cy="525" rx="3" ry="6" fill="#000" opacity="0.4"/></g></g>
<rect x="344" y="500.6" width="98.2" height="31.9" fill="none" stroke="#000" stroke-width="1.5"/>
<g clip-path="url(#cf3)"><rect x="344" y="545.6" width="98.2" height="32.8" fill="#f1f1f1"/><g filter="url(#b6)"><ellipse cx="416" cy="562" rx="26" ry="9" fill="#000" opacity="0.25"/></g><g filter="url(#b2)"><ellipse cx="369" cy="562.6" rx="17" ry="2.8" fill="#000" opacity="0.4" transform="rotate(-4 369 562)"/><ellipse cx="378.5" cy="561.2" rx="7.5" ry="3.2" fill="#000" opacity="0.5"/><ellipse cx="416.5" cy="562" rx="21" ry="5" fill="#000" opacity="0.95"/><ellipse cx="414" cy="562.4" rx="15" ry="4" fill="#000" opacity="1"/></g></g>
<rect x="344" y="545.6" width="98.2" height="32.8" fill="none" stroke="#000" stroke-width="1.5"/>
<text x="338.2" y="447.88" font-size="10" font-weight="bold" text-anchor="end" fill="#000">1,25D3</text>
<text x="369.8" y="448.98" font-size="16.84" font-weight="normal" text-anchor="middle" fill="#000">−</text>
<text x="413.31" y="446.94" font-size="10.8" font-weight="bold" text-anchor="middle" fill="#000">+</text>
<text x="449" y="448.08" font-size="8.6" font-weight="bold" text-anchor="start" fill="#000">kDa</text>
<text x="338" y="469.44" font-size="12.4" font-weight="bold" text-anchor="end" fill="#000">Alix</text>
<text x="341" y="484.97" font-size="9.4" font-weight="bold" text-anchor="end" fill="#000">(95 kDa)</text>
<text x="339" y="517.53" font-size="12.1" font-weight="bold" text-anchor="end" fill="#000">Flotilin-1</text>
<text x="340.4" y="532.57" font-size="9.4" font-weight="bold" text-anchor="end" fill="#000">(49 kDa)</text>
<text x="338" y="563.24" font-size="12.4" font-weight="bold" text-anchor="end" fill="#000">NE</text>
<text x="341" y="577.97" font-size="9.4" font-weight="bold" text-anchor="end" fill="#000">(29 kDa)</text>
<line x1="442.6" y1="457.8" x2="446.4" y2="457.8" stroke="#000" stroke-width="1.1" stroke-linecap="butt"/>
<text x="450.4" y="461.02" font-size="9" font-weight="bold" text-anchor="start" fill="#000">100</text>
<line x1="442.6" y1="502.9" x2="448.2" y2="502.9" stroke="#000" stroke-width="1.1" stroke-linecap="butt"/>
<text x="452.8" y="506.12" font-size="9" font-weight="bold" text-anchor="start" fill="#000">55</text>
<line x1="442.6" y1="574.3" x2="446.4" y2="574.3" stroke="#000" stroke-width="1.1" stroke-linecap="butt"/>
<text x="452.8" y="577.52" font-size="9" font-weight="bold" text-anchor="start" fill="#000">25</text>
<line x1="524.7" y1="423.3" x2="524.7" y2="586.3" stroke="#000" stroke-width="1.4" stroke-linecap="butt"/>
<line x1="524.1" y1="585.7" x2="742.4" y2="585.7" stroke="#000" stroke-width="1.4" stroke-linecap="butt"/>
<line x1="518.1" y1="424" x2="524.7" y2="424" stroke="#000" stroke-width="1.4" stroke-linecap="butt"/>
<text x="516.2" y="428.26" font-size="11.9" font-weight="bold" text-anchor="end" fill="#000">3.0</text>
<line x1="518.1" y1="464.6" x2="524.7" y2="464.6" stroke="#000" stroke-width="1.4" stroke-linecap="butt"/>
<text x="516.2" y="468.86" font-size="11.9" font-weight="bold" text-anchor="end" fill="#000">2.5</text>
<line x1="518.1" y1="505.2" x2="524.7" y2="505.2" stroke="#000" stroke-width="1.4" stroke-linecap="butt"/>
<text x="516.2" y="509.46" font-size="11.9" font-weight="bold" text-anchor="end" fill="#000">2.0</text>
<line x1="518.1" y1="545.4" x2="524.7" y2="545.4" stroke="#000" stroke-width="1.4" stroke-linecap="butt"/>
<text x="516.2" y="549.66" font-size="11.9" font-weight="bold" text-anchor="end" fill="#000">1.5</text>
<line x1="518.1" y1="585.7" x2="524.7" y2="585.7" stroke="#000" stroke-width="1.4" stroke-linecap="butt"/>
<text x="516.2" y="589.96" font-size="11.9" font-weight="bold" text-anchor="end" fill="#000">1.0</text>
<line x1="521.3" y1="444.3" x2="524.7" y2="444.3" stroke="#000" stroke-width="1.1" stroke-linecap="butt"/>
<line x1="521.3" y1="484.9" x2="524.7" y2="484.9" stroke="#000" stroke-width="1.1" stroke-linecap="butt"/>
<line x1="521.3" y1="525.3" x2="524.7" y2="525.3" stroke="#000" stroke-width="1.1" stroke-linecap="butt"/>
<line x1="521.3" y1="565.5" x2="524.7" y2="565.5" stroke="#000" stroke-width="1.1" stroke-linecap="butt"/>
<text transform="rotate(-90 492 504.5)" x="492" y="504.5" font-size="11.25" font-weight="bold" text-anchor="middle">Relative protein expression (x10<tspan font-size="7.4" dy="-4">5</tspan><tspan dy="4">)</tspan></text>
<rect x="534.6" y="541.3" width="17" height="44.4" fill="#f00000" stroke="#000" stroke-width="1.4"/>
<line x1="543.1" y1="534.4" x2="543.1" y2="546.2" stroke="#000" stroke-width="1.3" stroke-linecap="butt"/>
<line x1="537.6" y1="534.4" x2="548.6" y2="534.4" stroke="#000" stroke-width="1.3" stroke-linecap="butt"/>
<line x1="537.6" y1="546.2" x2="548.6" y2="546.2" stroke="#000" stroke-width="1.3" stroke-linecap="butt"/>
<rect x="563" y="513.7" width="17.4" height="72" fill="#0000d8" stroke="#000" stroke-width="1.4"/>
<line x1="571.7" y1="507" x2="571.7" y2="518.5" stroke="#000" stroke-width="1.3" stroke-linecap="butt"/>
<line x1="566.2" y1="507" x2="577.2" y2="507" stroke="#000" stroke-width="1.3" stroke-linecap="butt"/>
<line x1="566.2" y1="518.5" x2="577.2" y2="518.5" stroke="#000" stroke-width="1.3" stroke-linecap="butt"/>
<rect x="611" y="504.4" width="17" height="81.3" fill="#f00000" stroke="#000" stroke-width="1.4"/>
<line x1="619.5" y1="501.1" x2="619.5" y2="505.9" stroke="#000" stroke-width="1.3" stroke-linecap="butt"/>
<line x1="614" y1="501.1" x2="625" y2="501.1" stroke="#000" stroke-width="1.3" stroke-linecap="butt"/>
<line x1="614" y1="505.9" x2="625" y2="505.9" stroke="#000" stroke-width="1.3" stroke-linecap="butt"/>
<rect x="639.4" y="499.3" width="17.4" height="86.4" fill="#0000d8" stroke="#000" stroke-width="1.4"/>
<line x1="648.1" y1="486.4" x2="648.1" y2="510" stroke="#000" stroke-width="1.3" stroke-linecap="butt"/>
<line x1="642.6" y1="486.4" x2="653.6" y2="486.4" stroke="#000" stroke-width="1.3" stroke-linecap="butt"/>
<line x1="642.6" y1="510" x2="653.6" y2="510" stroke="#000" stroke-width="1.3" stroke-linecap="butt"/>
<rect x="686.3" y="541.3" width="17.4" height="44.4" fill="#f00000" stroke="#000" stroke-width="1.4"/>
<line x1="695" y1="535.5" x2="695" y2="545.4" stroke="#000" stroke-width="1.3" stroke-linecap="butt"/>
<line x1="689.5" y1="535.5" x2="700.5" y2="535.5" stroke="#000" stroke-width="1.3" stroke-linecap="butt"/>
<line x1="689.5" y1="545.4" x2="700.5" y2="545.4" stroke="#000" stroke-width="1.3" stroke-linecap="butt"/>
<rect x="714.7" y="462" width="17.4" height="123.7" fill="#0000d8" stroke="#000" stroke-width="1.4"/>
<line x1="723.4" y1="446.1" x2="723.4" y2="474.6" stroke="#000" stroke-width="1.3" stroke-linecap="butt"/>
<line x1="717.9" y1="446.1" x2="728.9" y2="446.1" stroke="#000" stroke-width="1.3" stroke-linecap="butt"/>
<line x1="717.9" y1="474.6" x2="728.9" y2="474.6" stroke="#000" stroke-width="1.3" stroke-linecap="butt"/>
<line x1="557.5" y1="585.7" x2="557.5" y2="591.9" stroke="#000" stroke-width="1.4" stroke-linecap="butt"/>
<line x1="633.4" y1="585.7" x2="633.4" y2="591.9" stroke="#000" stroke-width="1.4" stroke-linecap="butt"/>
<line x1="709.3" y1="585.7" x2="709.3" y2="591.9" stroke="#000" stroke-width="1.4" stroke-linecap="butt"/>
<line x1="543.1" y1="498.8" x2="571.5" y2="498.8" stroke="#000" stroke-width="1.3" stroke-linecap="butt"/>
<line x1="618.2" y1="478.6" x2="646.6" y2="478.6" stroke="#000" stroke-width="1.3" stroke-linecap="butt"/>
<line x1="695.2" y1="439.9" x2="723.6" y2="439.9" stroke="#000" stroke-width="1.3" stroke-linecap="butt"/>
<text x="558.2" y="497.45" font-size="12.5" font-weight="bold" text-anchor="middle" fill="#000">*</text>
<text x="631.4" y="473.2" font-size="10.9" text-anchor="middle"><tspan font-style="italic">p</tspan>=0.961</text>
<text x="709.4" y="439.25" font-size="12.5" font-weight="bold" text-anchor="middle" fill="#000">***</text>
<text x="557.5" y="606.54" font-size="13.8" font-weight="bold" text-anchor="middle" fill="#000" font-family='"Liberation Serif", "Times New Roman", serif'>Alix</text>
<text x="632.6" y="605.7" font-size="12" font-weight="bold" text-anchor="middle" fill="#000" font-family='"Liberation Serif", "Times New Roman", serif'>Flotillin-1</text>
<text x="709.3" y="606.6" font-size="13.4" font-weight="bold" text-anchor="middle" fill="#000" font-family='"Liberation Serif", "Times New Roman", serif'>NE</text>
<rect x="547" y="413.8" width="17" height="4.6" fill="#f00000" stroke="#000" stroke-width="1.1"/>
<text x="573.6" y="420.27" font-size="10.8" font-weight="normal" text-anchor="start" fill="#000">control</text>
<rect x="638.2" y="413.8" width="16.4" height="4.6" fill="#0000d8" stroke="#000" stroke-width="1.1"/>
<text x="664.2" y="420.17" font-size="11.1" font-weight="normal" text-anchor="start" fill="#000">+1,25D3</text>
<line x1="64.3" y1="642.6" x2="64.3" y2="777.1" stroke="#000" stroke-width="1.4" stroke-linecap="butt"/>
<line x1="63.7" y1="776.5" x2="169.1" y2="776.5" stroke="#000" stroke-width="1.4" stroke-linecap="butt"/>
<line x1="59.7" y1="776.5" x2="64.3" y2="776.5" stroke="#000" stroke-width="1.4" stroke-linecap="butt"/>
<text x="56.6" y="780.15" font-size="10.2" font-weight="bold" text-anchor="end" fill="#000">0</text>
<line x1="59.7" y1="749.9" x2="64.3" y2="749.9" stroke="#000" stroke-width="1.4" stroke-linecap="butt"/>
<text x="56.6" y="753.55" font-size="10.2" font-weight="bold" text-anchor="end" fill="#000">10</text>
<line x1="59.7" y1="723.3" x2="64.3" y2="723.3" stroke="#000" stroke-width="1.4" stroke-linecap="butt"/>
<text x="56.6" y="726.95" font-size="10.2" font-weight="bold" text-anchor="end" fill="#000">20</text>
<line x1="59.7" y1="696.7" x2="64.3" y2="696.7" stroke="#000" stroke-width="1.4" stroke-linecap="butt"/>
<text x="56.6" y="700.35" font-size="10.2" font-weight="bold" text-anchor="end" fill="#000">30</text>
<line x1="59.7" y1="670.1" x2="64.3" y2="670.1" stroke="#000" stroke-width="1.4" stroke-linecap="butt"/>
<text x="56.6" y="673.75" font-size="10.2" font-weight="bold" text-anchor="end" fill="#000">40</text>
<line x1="59.7" y1="643.5" x2="64.3" y2="643.5" stroke="#000" stroke-width="1.4" stroke-linecap="butt"/>
<text x="56.6" y="647.15" font-size="10.2" font-weight="bold" text-anchor="end" fill="#000">50</text>
<text transform="rotate(-90 38.8 709.5)" x="38.8" y="709.5" font-size="11" font-weight="bold" text-anchor="middle">% of CD14<tspan font-size="8.6" dy="-4.7">+</tspan><tspan dy="4.7">CD11b</tspan><tspan font-size="8.6" dy="-4.7">+</tspan><tspan dy="4.7"> cell</tspan></text>
<rect x="75.3" y="760.8" width="18.9" height="15.7" fill="#d4d4d4" stroke="#000" stroke-width="1.4"/>
<rect x="106.9" y="725.9" width="18.9" height="50.6" fill="#f00000" stroke="#000" stroke-width="1.4"/>
<rect x="138.2" y="674.3" width="19.2" height="102.2" fill="#0000d8" stroke="#000" stroke-width="1.4"/>
<line x1="84.7" y1="758.1" x2="84.7" y2="761.8" stroke="#000" stroke-width="1.3" stroke-linecap="butt"/>
<line x1="79.7" y1="758.1" x2="89.7" y2="758.1" stroke="#000" stroke-width="1.3" stroke-linecap="butt"/>
<line x1="79.7" y1="761.8" x2="89.7" y2="761.8" stroke="#000" stroke-width="1.3" stroke-linecap="butt"/>
<line x1="116.3" y1="722.5" x2="116.3" y2="727.5" stroke="#000" stroke-width="1.3" stroke-linecap="butt"/>
<line x1="111.3" y1="722.5" x2="121.3" y2="722.5" stroke="#000" stroke-width="1.3" stroke-linecap="butt"/>
<line x1="111.3" y1="727.5" x2="121.3" y2="727.5" stroke="#000" stroke-width="1.3" stroke-linecap="butt"/>
<line x1="147.8" y1="660.6" x2="147.8" y2="686.2" stroke="#000" stroke-width="1.3" stroke-linecap="butt"/>
<line x1="142.8" y1="660.6" x2="152.8" y2="660.6" stroke="#000" stroke-width="1.3" stroke-linecap="butt"/>
<line x1="142.8" y1="686.2" x2="152.8" y2="686.2" stroke="#000" stroke-width="1.3" stroke-linecap="butt"/>
<line x1="84.6" y1="776.5" x2="84.6" y2="782.1" stroke="#000" stroke-width="1.4" stroke-linecap="butt"/>
<line x1="116.2" y1="776.5" x2="116.2" y2="782.1" stroke="#000" stroke-width="1.4" stroke-linecap="butt"/>
<line x1="147.8" y1="776.5" x2="147.8" y2="782.1" stroke="#000" stroke-width="1.4" stroke-linecap="butt"/>
<line x1="85.2" y1="716.4" x2="115.8" y2="716.4" stroke="#000" stroke-width="1.3" stroke-linecap="butt"/>
<line x1="85.2" y1="654" x2="147.6" y2="654" stroke="#000" stroke-width="1.3" stroke-linecap="butt"/>
<text x="100.9" y="715.75" font-size="11.5" font-weight="bold" text-anchor="middle" fill="#000">*</text>
<text x="116.4" y="654.95" font-size="11.5" font-weight="bold" text-anchor="middle" fill="#000">***</text>
<text x="88.5" y="792" font-size="10.4" font-weight="bold" text-anchor="end" fill="#000" transform="rotate(-45 88.5 792)">U937</text>
<text x="120.2" y="792" font-size="10.4" font-weight="bold" text-anchor="end" fill="#000" transform="rotate(-45 120.2 792)">EVs</text>
<text x="151.4" y="792" font-size="10.4" font-weight="bold" text-anchor="end" fill="#000" transform="rotate(-45 151.4 792)">pre-EVs</text>
<line x1="261.6" y1="659.3" x2="261.6" y2="778.4" stroke="#000" stroke-width="1.4" stroke-linecap="butt"/>
<line x1="261" y1="777.8" x2="354.8" y2="777.8" stroke="#000" stroke-width="1.4" stroke-linecap="butt"/>
<line x1="257" y1="660" x2="261.6" y2="660" stroke="#000" stroke-width="1.4" stroke-linecap="butt"/>
<text x="254.9" y="663.15" font-size="8.8" font-weight="bold" text-anchor="end" fill="#000">120</text>
<line x1="257" y1="699.2" x2="261.6" y2="699.2" stroke="#000" stroke-width="1.4" stroke-linecap="butt"/>
<text x="254.9" y="702.35" font-size="8.8" font-weight="bold" text-anchor="end" fill="#000">80</text>
<line x1="257" y1="738.5" x2="261.6" y2="738.5" stroke="#000" stroke-width="1.4" stroke-linecap="butt"/>
<text x="254.9" y="741.65" font-size="8.8" font-weight="bold" text-anchor="end" fill="#000">40</text>
<line x1="257" y1="777.8" x2="261.6" y2="777.8" stroke="#000" stroke-width="1.4" stroke-linecap="butt"/>
<text x="254.9" y="780.95" font-size="8.8" font-weight="bold" text-anchor="end" fill="#000">0</text>
<text transform="rotate(-90 234.6 717.6)" x="234.6" y="717.6" font-size="9.6" font-weight="bold" text-anchor="middle">x10<tspan font-size="6.4" dy="-3.4">3</tspan><tspan dy="3.4"> EVs/μl</tspan></text>
<rect x="275.9" y="690.3" width="24.9" height="87.5" fill="#d80000" stroke="#000" stroke-width="1.4"/>
<rect x="315.8" y="729.6" width="24.8" height="48.2" fill="#0000c0" stroke="#000" stroke-width="1.4"/>
<line x1="288.5" y1="675.6" x2="288.5" y2="702.9" stroke="#000" stroke-width="1.3" stroke-linecap="butt"/>
<line x1="282.5" y1="675.6" x2="294.5" y2="675.6" stroke="#000" stroke-width="1.3" stroke-linecap="butt"/>
<line x1="282.5" y1="702.9" x2="294.5" y2="702.9" stroke="#000" stroke-width="1.3" stroke-linecap="butt"/>
<line x1="328.4" y1="726.5" x2="328.4" y2="730.5" stroke="#000" stroke-width="1.3" stroke-linecap="butt"/>
<line x1="322.4" y1="726.5" x2="334.4" y2="726.5" stroke="#000" stroke-width="1.3" stroke-linecap="butt"/>
<line x1="322.4" y1="730.5" x2="334.4" y2="730.5" stroke="#000" stroke-width="1.3" stroke-linecap="butt"/>
<line x1="288.5" y1="777.8" x2="288.5" y2="782.6" stroke="#000" stroke-width="1.4" stroke-linecap="butt"/>
<line x1="328.5" y1="777.8" x2="328.5" y2="782.6" stroke="#000" stroke-width="1.4" stroke-linecap="butt"/>
<line x1="288.2" y1="670.4" x2="328.2" y2="670.4" stroke="#000" stroke-width="1.3" stroke-linecap="butt"/>
<text x="308.9" y="671.15" font-size="11.5" font-weight="bold" text-anchor="middle" fill="#000">*</text>
<text x="290.5" y="791.5" font-size="9" font-weight="bold" text-anchor="end" fill="#000" transform="rotate(-45 290.5 791.5)">MSC&amp;shcon</text>
<text x="330.5" y="791.5" font-size="9" font-weight="bold" text-anchor="end" fill="#000" transform="rotate(-45 330.5 791.5)">MSC&amp;shVDR</text>
<line x1="447.3" y1="649" x2="447.3" y2="780.1" stroke="#000" stroke-width="1.4" stroke-linecap="butt"/>
<line x1="446.7" y1="779.5" x2="609.7" y2="779.5" stroke="#000" stroke-width="1.4" stroke-linecap="butt"/>
<line x1="442.7" y1="779.5" x2="447.3" y2="779.5" stroke="#000" stroke-width="1.4" stroke-linecap="butt"/>
<text x="440.6" y="783.15" font-size="10.2" font-weight="bold" text-anchor="end" fill="#000">0</text>
<line x1="442.7" y1="753.6" x2="447.3" y2="753.6" stroke="#000" stroke-width="1.4" stroke-linecap="butt"/>
<text x="440.6" y="757.25" font-size="10.2" font-weight="bold" text-anchor="end" fill="#000">10</text>
<line x1="442.7" y1="727.7" x2="447.3" y2="727.7" stroke="#000" stroke-width="1.4" stroke-linecap="butt"/>
<text x="440.6" y="731.35" font-size="10.2" font-weight="bold" text-anchor="end" fill="#000">20</text>
<line x1="442.7" y1="701.8" x2="447.3" y2="701.8" stroke="#000" stroke-width="1.4" stroke-linecap="butt"/>
<text x="440.6" y="705.45" font-size="10.2" font-weight="bold" text-anchor="end" fill="#000">30</text>
<line x1="442.7" y1="675.9" x2="447.3" y2="675.9" stroke="#000" stroke-width="1.4" stroke-linecap="butt"/>
<text x="440.6" y="679.55" font-size="10.2" font-weight="bold" text-anchor="end" fill="#000">40</text>
<line x1="442.7" y1="650" x2="447.3" y2="650" stroke="#000" stroke-width="1.4" stroke-linecap="butt"/>
<text x="440.6" y="653.65" font-size="10.2" font-weight="bold" text-anchor="end" fill="#000">50</text>
<text transform="rotate(-90 422.4 714)" x="422.4" y="714" font-size="10.8" font-weight="bold" text-anchor="middle">% of CD14<tspan font-size="8.6" dy="-4.7">+</tspan><tspan dy="4.7">CD11b</tspan><tspan font-size="8.6" dy="-4.7">+</tspan><tspan dy="4.7">cells</tspan></text>
<rect x="457.9" y="755.2" width="18.6" height="24.3" fill="#a9a9ad" stroke="#000" stroke-width="1.4"/>
<line x1="467.2" y1="743.2" x2="467.2" y2="764.8" stroke="#000" stroke-width="1.3" stroke-linecap="butt"/>
<line x1="461.7" y1="743.2" x2="472.7" y2="743.2" stroke="#000" stroke-width="1.3" stroke-linecap="butt"/>
<line x1="461.7" y1="764.8" x2="472.7" y2="764.8" stroke="#000" stroke-width="1.3" stroke-linecap="butt"/>
<rect x="488.6" y="704.9" width="18.5" height="74.6" fill="#c60000" stroke="#000" stroke-width="1.4"/>
<line x1="497.85" y1="694.6" x2="497.85" y2="712.5" stroke="#000" stroke-width="1.3" stroke-linecap="butt"/>
<line x1="492.35" y1="694.6" x2="503.35" y2="694.6" stroke="#000" stroke-width="1.3" stroke-linecap="butt"/>
<line x1="492.35" y1="712.5" x2="503.35" y2="712.5" stroke="#000" stroke-width="1.3" stroke-linecap="butt"/>
<rect x="518.9" y="742.2" width="18.5" height="37.3" fill="#0000cc" stroke="#000" stroke-width="1.4"/>
<line x1="528.15" y1="735.5" x2="528.15" y2="747.2" stroke="#000" stroke-width="1.3" stroke-linecap="butt"/>
<line x1="522.65" y1="735.5" x2="533.65" y2="735.5" stroke="#000" stroke-width="1.3" stroke-linecap="butt"/>
<line x1="522.65" y1="747.2" x2="533.65" y2="747.2" stroke="#000" stroke-width="1.3" stroke-linecap="butt"/>
<rect x="549.5" y="681.3" width="18.6" height="98.2" fill="#c60000" stroke="#000" stroke-width="1.4"/>
<line x1="558.8" y1="671.6" x2="558.8" y2="688.6" stroke="#000" stroke-width="1.3" stroke-linecap="butt"/>
<line x1="553.3" y1="671.6" x2="564.3" y2="671.6" stroke="#000" stroke-width="1.3" stroke-linecap="butt"/>
<line x1="553.3" y1="688.6" x2="564.3" y2="688.6" stroke="#000" stroke-width="1.3" stroke-linecap="butt"/>
<rect x="579.8" y="744.9" width="18.6" height="34.6" fill="#0000cc" stroke="#000" stroke-width="1.4"/>
<line x1="589.1" y1="739.2" x2="589.1" y2="748.8" stroke="#000" stroke-width="1.3" stroke-linecap="butt"/>
<line x1="583.6" y1="739.2" x2="594.6" y2="739.2" stroke="#000" stroke-width="1.3" stroke-linecap="butt"/>
<line x1="583.6" y1="748.8" x2="594.6" y2="748.8" stroke="#000" stroke-width="1.3" stroke-linecap="butt"/>
<line x1="467.2" y1="779.5" x2="467.2" y2="784.3" stroke="#000" stroke-width="1.4" stroke-linecap="butt"/>
<line x1="497.9" y1="779.5" x2="497.9" y2="784.3" stroke="#000" stroke-width="1.4" stroke-linecap="butt"/>
<line x1="528.2" y1="779.5" x2="528.2" y2="784.3" stroke="#000" stroke-width="1.4" stroke-linecap="butt"/>
<line x1="558.8" y1="779.5" x2="558.8" y2="784.3" stroke="#000" stroke-width="1.4" stroke-linecap="butt"/>
<line x1="589.1" y1="779.5" x2="589.1" y2="784.3" stroke="#000" stroke-width="1.4" stroke-linecap="butt"/>
<text x="497.9" y="694.4" font-size="9.6" font-weight="bold" text-anchor="middle" fill="#000">****</text>
<text x="559.1" y="671.4" font-size="9.6" font-weight="bold" text-anchor="middle" fill="#000">****</text>
<text x="528.2" y="732.27" font-size="10.8" font-weight="normal" text-anchor="middle" fill="#000">ns</text>
<text x="589.1" y="735.27" font-size="10.8" font-weight="normal" text-anchor="middle" fill="#000">ns</text>
<rect x="452" y="637.3" width="12.6" height="4.9" fill="#c60000" stroke="#000" stroke-width="1.1"/>
<text x="473.2" y="643.07" font-size="9.7" font-weight="bold" text-anchor="start" fill="#000">+MSC</text>
<rect x="510" y="637.3" width="12.6" height="4.9" fill="#0000cc" stroke="#000" stroke-width="1.1"/>
<text x="530.6" y="643.11" font-size="9.8" font-weight="bold" text-anchor="start" fill="#000">+MSC VDR-KO</text>
<text x="451.6" y="796.97" font-size="10.8" font-weight="bold" text-anchor="end" fill="#000">1,25D3</text>
<text x="467.2" y="797.69" font-size="13.89" font-weight="normal" text-anchor="middle" fill="#000">−</text>
<text x="497.9" y="797.69" font-size="13.89" font-weight="normal" text-anchor="middle" fill="#000">−</text>
<text x="528.2" y="797.69" font-size="13.89" font-weight="normal" text-anchor="middle" fill="#000">−</text>
<text x="558.8" y="797.52" font-size="13.47" font-weight="normal" text-anchor="middle" fill="#000">+</text>
<text x="589.1" y="797.52" font-size="13.47" font-weight="normal" text-anchor="middle" fill="#000">+</text>
</svg>
</body></html>
